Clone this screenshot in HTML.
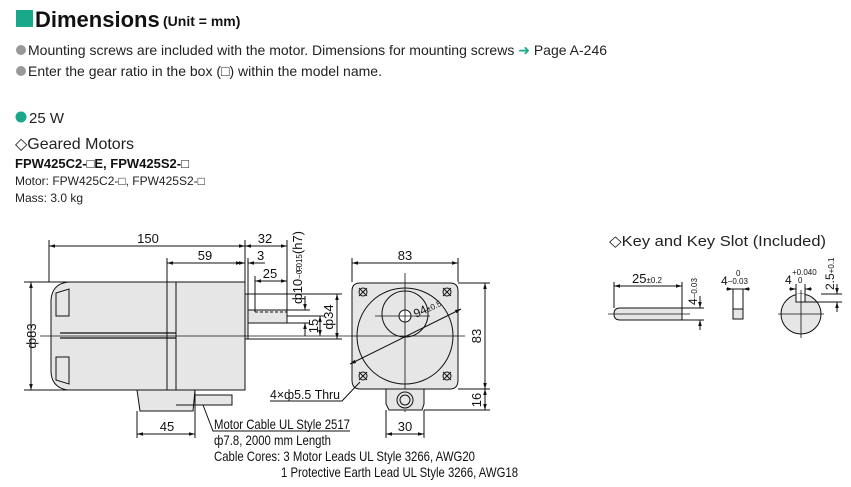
<!DOCTYPE html>
<html><head><meta charset="utf-8"><style>
html,body{margin:0;padding:0;background:#fff;}
svg{display:block}
.n{font-family:"Liberation Sans Narrow","Liberation Sans",sans-serif;font-size:13px;fill:#111}
.s{font-family:"Liberation Sans",sans-serif;fill:#222}
</style></head><body>
<svg width="851" height="487" viewBox="0 0 851 487" xmlns="http://www.w3.org/2000/svg">
<defs><marker id="a" viewBox="0 0 10 10" refX="10" refY="5" markerWidth="6" markerHeight="6" orient="auto-start-reverse"><path d="M0,2L10,5L0,8z" fill="#111"/></marker></defs>
<!-- header -->
<rect x="16" y="10" width="17" height="17" fill="#1aa88a"/>
<text x="35" y="27" class="s" style="font-size:22px;font-weight:bold;fill:#111">Dimensions</text>
<text x="163" y="26" class="s" style="font-size:14px;font-weight:bold;fill:#111">(Unit = mm)</text>
<circle cx="21" cy="50" r="5" fill="#999"/>
<text x="28" y="55" class="s" style="font-size:14px">Mounting screws are included with the motor. Dimensions for mounting screws <tspan fill="#1aa88a">➜</tspan> Page A-246</text>
<circle cx="21" cy="71" r="5" fill="#999"/>
<text x="28" y="76" class="s" style="font-size:14px">Enter the gear ratio in the box (□) within the model name.</text>
<circle cx="21" cy="117" r="5.5" fill="#1aa88a"/>
<text x="29" y="123" class="s" style="font-size:15px">25 W</text>
<text x="15" y="149" class="s" style="font-size:16px">◇Geared Motors</text>
<text x="15" y="168" class="s" style="font-size:13px;font-weight:bold;fill:#111">FPW425C2-□E, FPW425S2-□</text>
<text x="15" y="185" class="s" style="font-size:12px">Motor: FPW425C2-□, FPW425S2-□</text>
<text x="15" y="202" class="s" style="font-size:12px">Mass: 3.0 kg</text>

<g stroke="#111" stroke-width="1" fill="none">
<!-- side view body -->
<path d="M167,282 H68 Q52,284 51,300 V372 Q52,388 68,390 H167 Z" fill="#e6e6e6"/>
<rect x="167" y="282" width="78" height="108" fill="#e6e6e6"/>
<line x1="176" y1="282" x2="176" y2="390"/>
<path d="M56,293 L69,289 V316 H56 Z M56,357 H69 V384 L56,380 Z"/>
<path d="M60,333 L176,333 M60,338 L176,338" stroke-width="1.2"/>
<rect x="245" y="294" width="3" height="45" fill="#e6e6e6"/>
<rect x="248" y="310" width="39" height="13" fill="#e6e6e6"/>
<line x1="255" y1="312" x2="287" y2="312" stroke-dasharray="3,2"/>
<line x1="40" y1="336" x2="345" y2="336" stroke-width="0.8"/>
<path d="M137,390 H195 L193,411 H140 Z" fill="#e6e6e6"/>
<path d="M176,390 H195 V405 H176" />
<rect x="195" y="395" width="37" height="10" fill="#e6e6e6"/>
<!-- dims side -->
<line x1="49" y1="246" x2="245" y2="246" marker-start="url(#a)" marker-end="url(#a)"/>
<line x1="49" y1="240" x2="49" y2="282"/><line x1="245" y1="240" x2="245" y2="294"/>
<line x1="167" y1="263" x2="242" y2="263" marker-start="url(#a)" marker-end="url(#a)"/>
<line x1="167" y1="258" x2="167" y2="282"/>
<line x1="245" y1="246" x2="287" y2="246" marker-start="url(#a)" marker-end="url(#a)"/>
<line x1="287" y1="240" x2="287" y2="310"/>
<line x1="235" y1="263" x2="245" y2="263" marker-end="url(#a)"/><line x1="248" y1="263" x2="265" y2="263" marker-start="url(#a)"/>
<line x1="248" y1="258" x2="248" y2="294"/>
<line x1="255" y1="281" x2="287" y2="281" marker-start="url(#a)" marker-end="url(#a)"/>
<line x1="255" y1="276" x2="255" y2="312"/>
<line x1="24" y1="282" x2="167" y2="282"/><line x1="24" y1="390" x2="137" y2="390"/>
<line x1="31" y1="282" x2="31" y2="390" marker-start="url(#a)" marker-end="url(#a)"/>
<line x1="248" y1="294" x2="342" y2="294"/><line x1="248" y1="339" x2="342" y2="339"/>
<line x1="337" y1="294" x2="337" y2="339" marker-start="url(#a)" marker-end="url(#a)"/>
<line x1="287" y1="310" x2="310" y2="310"/><line x1="287" y1="323" x2="310" y2="323"/>
<line x1="305" y1="296" x2="305" y2="310" marker-end="url(#a)"/><line x1="305" y1="323" x2="305" y2="336" marker-start="url(#a)"/>
<line x1="320" y1="316" x2="320" y2="336" marker-start="url(#a)" marker-end="url(#a)"/>
<line x1="287" y1="316" x2="325" y2="316"/>
<line x1="137" y1="411" x2="137" y2="438"/><line x1="195" y1="405" x2="195" y2="438"/>
<line x1="137" y1="434" x2="195" y2="434" marker-start="url(#a)" marker-end="url(#a)"/>
<path d="M203,405 L213,431 H350"/>
<!-- front view -->
<path d="M360,283 H450 Q458,283 458,291 V380 Q458,389 450,389 H360 Q352,389 352,380 V291 Q352,283 360,283 Z" fill="#e6e6e6"/>
<circle cx="405" cy="336" r="48"/>
<circle cx="405" cy="314" r="23"/>
<circle cx="405" cy="316" r="6" fill="#fff"/>
<path d="M359,288l8,8m0,-8l-8,8 M443,288l8,8m0,-8l-8,8 M359,372l8,8m0,-8l-8,8 M443,372l8,8m0,-8l-8,8"/>
<circle cx="363" cy="292" r="4"/><circle cx="447" cy="292" r="4"/><circle cx="363" cy="376" r="4"/><circle cx="447" cy="376" r="4"/>
<line x1="345" y1="336" x2="465" y2="336" stroke-width="0.8"/>
<line x1="405" y1="273" x2="405" y2="412" stroke-width="0.8"/>
<line x1="375" y1="316" x2="430" y2="316" stroke-width="0.8"/>
<path d="M386,389 H424 V404 L422,410 H389 L386,404 Z" fill="#e6e6e6"/>
<circle cx="405" cy="400" r="8"/><circle cx="405" cy="400" r="5"/>
<line x1="350" y1="364" x2="461" y2="309" marker-start="url(#a)" marker-end="url(#a)"/>
<line x1="352" y1="258" x2="352" y2="282"/><line x1="458" y1="258" x2="458" y2="282"/>
<line x1="352" y1="263" x2="458" y2="263" marker-start="url(#a)" marker-end="url(#a)"/>
<line x1="458" y1="283" x2="490" y2="283"/><line x1="458" y1="389" x2="490" y2="389"/><line x1="424" y1="410" x2="490" y2="410"/>
<line x1="485" y1="283" x2="485" y2="389" marker-start="url(#a)" marker-end="url(#a)"/>
<line x1="485" y1="389" x2="485" y2="410" marker-start="url(#a)" marker-end="url(#a)"/>
<line x1="386" y1="410" x2="386" y2="438"/><line x1="424" y1="410" x2="424" y2="438"/>
<line x1="386" y1="434" x2="424" y2="434" marker-start="url(#a)" marker-end="url(#a)"/>
<path d="M270,401 H342 L360,382"/>
<!-- key -->
<path d="M620,308 H682 V320 H620 Q614,320 614,314 Q614,308 620,308 Z" fill="#e6e6e6"/>
<line x1="608" y1="314" x2="690" y2="314" stroke-width="0.8"/>
<line x1="614" y1="282" x2="614" y2="308"/><line x1="682" y1="282" x2="682" y2="308"/>
<line x1="614" y1="286" x2="682" y2="286" marker-start="url(#a)" marker-end="url(#a)"/>
<line x1="682" y1="308" x2="704" y2="308"/><line x1="682" y1="320" x2="704" y2="320"/>
<line x1="700" y1="296" x2="700" y2="308" marker-end="url(#a)"/><line x1="700" y1="320" x2="700" y2="330" marker-start="url(#a)"/>
<rect x="733" y="289" width="10" height="30"/><rect x="733" y="309" width="10" height="10" fill="#e6e6e6"/>
<line x1="726" y1="289" x2="733" y2="289" marker-end="url(#a)"/><line x1="750" y1="289" x2="743" y2="289" marker-end="url(#a)"/>
<circle cx="801" cy="314" r="20" fill="#e6e6e6"/>
<path d="M796,294 V302 H805 V294" fill="#fff"/>
<line x1="778" y1="314" x2="824" y2="314" stroke-width="0.8"/><line x1="801" y1="290" x2="801" y2="338" stroke-width="0.8"/>
<line x1="796" y1="284" x2="796" y2="302"/><line x1="805" y1="284" x2="805" y2="302"/>
<line x1="789" y1="289" x2="796" y2="289" marker-end="url(#a)"/><line x1="812" y1="289" x2="805" y2="289" marker-end="url(#a)"/>
<line x1="805" y1="302" x2="842" y2="302"/><line x1="821" y1="294" x2="842" y2="294"/>
<line x1="837" y1="284" x2="837" y2="294" marker-end="url(#a)"/><line x1="837" y1="312" x2="837" y2="302" marker-end="url(#a)"/>
</g>
<g class="n">
<text x="148" y="243" text-anchor="middle">150</text>
<text x="205" y="260" text-anchor="middle">59</text>
<text x="265" y="243" text-anchor="middle">32</text>
<text x="257" y="260">3</text>
<text x="270" y="278" text-anchor="middle">25</text>
<text transform="translate(36,336) rotate(-90)" text-anchor="middle">ф83</text>
<text transform="translate(333,317) rotate(-90)" text-anchor="middle">ф34</text>
<text transform="translate(318,326) rotate(-90)" text-anchor="middle">15</text>
<text transform="translate(302,304) rotate(-90)">ф10<tspan font-size="8" dy="0">−0.015</tspan>(h7)</text>
<text x="296" y="272" font-size="8">0</text>
<text x="167" y="431" text-anchor="middle">45</text>
<text x="214" y="429" font-size="14" textLength="136" lengthAdjust="spacingAndGlyphs">Motor Cable UL Style 2517</text>
<text x="214" y="445" font-size="14" textLength="117" lengthAdjust="spacingAndGlyphs">ф7.8, 2000 mm Length</text>
<text x="214" y="461" font-size="14" textLength="261" lengthAdjust="spacingAndGlyphs">Cable Cores: 3 Motor Leads UL Style 3266, AWG20</text>
<text x="281" y="477" font-size="14" textLength="237" lengthAdjust="spacingAndGlyphs">1 Protective Earth Lead UL Style 3266, AWG18</text>
<text x="270" y="399" textLength="70" lengthAdjust="spacingAndGlyphs">4×ф5.5 Thru</text>
<text x="405" y="260" text-anchor="middle">83</text>
<text transform="translate(481,336) rotate(-90)" text-anchor="middle">83</text>
<text transform="translate(481,400) rotate(-90)" text-anchor="middle">16</text>
<text x="405" y="431" text-anchor="middle">30</text>
<text transform="translate(416,318) rotate(-26)" font-size="12">94<tspan font-size="8">±0.5</tspan></text>
<text x="632" y="283">25<tspan font-size="8">±0.2</tspan></text>
<text transform="translate(697,305) rotate(-90)" font-size="12">4<tspan font-size="8">−0.03</tspan></text>
<text x="721" y="285" font-size="12">4<tspan font-size="8" dy="-1">−0.03</tspan></text>
<text x="736" y="276" font-size="8">0</text>
<text x="785" y="284" font-size="12">4</text><text x="792" y="275" font-size="8">+0.040</text><text x="798" y="283" font-size="8">0</text>
<text transform="translate(834,290) rotate(-90)" font-size="12">2.5<tspan font-size="8">+0.1</tspan></text>
</g>
<text x="609" y="246" class="s" style="font-size:15px" textLength="217" lengthAdjust="spacingAndGlyphs">◇Key and Key Slot (Included)</text>
</svg>
</body></html>
